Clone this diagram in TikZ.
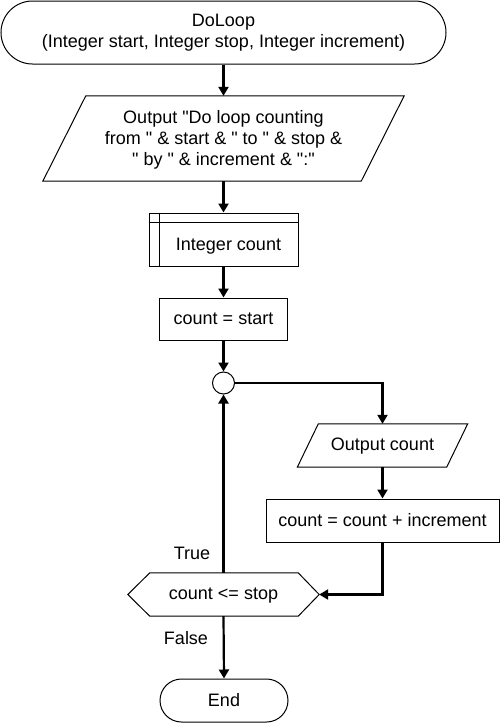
\documentclass[tikz,border=0pt]{standalone}
\usepackage{fontspec}
\setmainfont{Liberation Sans}
\newfontfamily\lsans{Liberation Sans}
\usetikzlibrary{arrows.meta,shapes.misc,calc}
\begin{document}
\begin{tikzpicture}[x=1pt,y=-1pt,
  every node/.style={font=\lsans\fontsize{18}{21}\selectfont, inner sep=0pt, align=center},
  shp/.style={draw, line width=1pt},
  term/.style={shp, rounded rectangle},
  proc/.style={shp, rectangle},
  txt/.style={draw=none},
  conn/.style={line width=2.2pt, -{Triangle[width=10pt,length=9pt]}},
  lbl/.style={font=\lsans\fontsize{18}{21}\selectfont}
]
\useasboundingbox (0,0) rectangle (500,723);
% start terminal
\node[term, minimum width=445pt, minimum height=63pt] (start) at (223.5,32.5)
  {DoLoop\\(Integer start, Integer stop, Integer increment)};
% output parallelogram
\node[txt, minimum width=361pt, minimum height=85pt] (out1) at (223.5,139.5)
  {Output "Do loop counting\\from " \& start \& " to " \& stop \&\\" by " \& increment \& ":"};
\draw[shp] ($(out1.north west)+(43,-1)$) -- ($(out1.north east)+(0,-1)$) -- ($(out1.south east)+(-43,-1)$) -- ($(out1.south west)+(0,-1)$) -- cycle;
% internal storage
\node[proc, minimum width=149pt, minimum height=53pt, text depth=0pt] (decl) at (223.5,239.5) {};
\node[txt] (decltxt) at (228.5,246) {Integer count};
\draw[line width=1pt] ($(decl.north west)+(11,0)$) -- ($(decl.south west)+(11,0)$);
\draw[line width=1pt] ($(decl.north west)+(0,10)$) -- ($(decl.north east)+(0,10)$);
% init
\node[proc, minimum width=128pt, minimum height=42pt] (init) at (223.5,319) {count = start};
% circle
\node[shp, circle, minimum size=22pt] (circ) at (223.5,383) {};
% output count
\node[txt, minimum width=170pt, minimum height=43pt] (outc) at (382.5,446.5) {Output count};
\draw[shp] ($(outc.north west)+(21,-1)$) -- ($(outc.north east)+(0,-1)$) -- ($(outc.south east)+(-21,-1)$) -- ($(outc.south west)+(0,-1)$) -- cycle;
% increment
\node[proc, minimum width=233pt, minimum height=43pt] (inc) at (382.5,520.5) {count = count + increment};
% hexagon decision
\node[txt, minimum width=191pt, minimum height=43pt] (hex) at (223.5,595.5) {count <= stop};
\draw[shp] ($(hex.west)+(0,-1)$) -- ($(hex.north west)+(22,-1)$) -- ($(hex.north east)+(-21,-1)$) -- ($(hex.east)+(0,-1)$) -- ($(hex.south east)+(-21,-1)$) -- ($(hex.south west)+(22,-1)$) -- cycle;
% end
\node[term, minimum width=128pt, minimum height=43pt] (end) at (224,700.5) {End};
% connectors
\draw[conn] (start.south) -- ($(out1.north)+(0,-1)$);
\draw[conn] ($(out1.south)+(0,-1)$) -- (decl.north);
\draw[conn] (decl.south) -- (init.north);
\draw[conn] (init.south) -- (circ.north);
\draw[conn] (circ.east) -| ($(outc.north)+(0,-1)$);
\draw[conn] ($(outc.south)+(0,-1)$) -- (inc.north);
\draw[conn] (inc.south) |- ($(hex.east)+(0,-1)$);
\draw[conn] ($(hex.north)+(0,-1)$) -- (circ.south);
\draw[conn] ($(hex.south)+(0,-1)$) -- (end.north);
% labels
\node[lbl] (ltrue) at (192,553) {True};
\node[lbl] (lfalse) at (186,638) {False};
\end{tikzpicture}
\end{document}
